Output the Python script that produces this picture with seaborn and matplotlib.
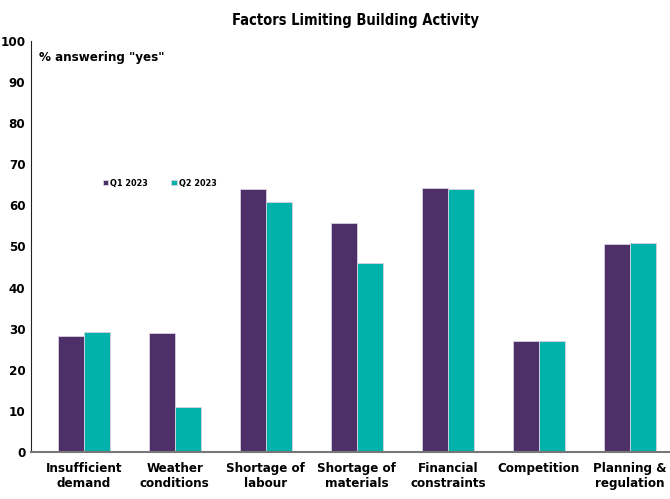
import matplotlib
matplotlib.use("Agg")
import matplotlib.pyplot as plt
import pandas as pd
import seaborn as sns

# Data
categories = ["Insufficient\ndemand", "Weather\nconditions", "Shortage of\nlabour",
              "Shortage of\nmaterials", "Financial\nconstraints", "Competition",
              "Planning &\nregulation"]
q1_2023 = [28.3, 29.0, 64.0, 55.7, 64.2, 27.0, 50.6]
q2_2023 = [29.2, 11.0, 60.9, 46.0, 64.0, 27.0, 50.8]
series = ["Q1 2023", "Q2 2023"]
colors = ["#4E3068", "#00B2A9"]

df = pd.DataFrame({
    "category": categories * 2,
    "value": q1_2023 + q2_2023,
    "series": [series[0]] * len(categories) + [series[1]] * len(categories),
})

sns.set_style("white")
plt.rcParams['font.family'] = ['DejaVu Sans']
plt.rcParams['font.stretch'] = 'condensed'
plt.rcParams['font.weight'] = 'bold'
plt.rcParams['text.color'] = 'black'
plt.rcParams['xtick.color'] = 'black'
plt.rcParams['ytick.color'] = 'black'

fig = plt.figure(figsize=(6.7, 4.99), dpi=100)
ax = fig.add_axes([31 / 670, 1 - 452 / 499, 639 / 670, 411 / 499])

sns.barplot(data=df, x="category", y="value", hue="series", palette=colors,
            saturation=1, width=0.57, edgecolor="#d9d2e0", linewidth=0.6, ax=ax)

ax.set_ylim(0, 100)
ax.set_xlim(-0.58, 6.44)
ax.set_yticks(range(0, 101, 10))
ax.tick_params(axis='y', length=0, labelsize=9.5, pad=4)
ax.tick_params(axis='x', length=0, labelsize=9.5, pad=7)
for lbl in ax.get_yticklabels() + ax.get_xticklabels():
    lbl.set_fontweight('bold')
ax.set_xlabel("")
ax.set_ylabel("")

for s in ["top", "right"]:
    ax.spines[s].set_visible(False)
ax.spines["left"].set_color("#222222")
ax.spines["left"].set_linewidth(0.8)
ax.spines["bottom"].set_color("#777777")
ax.spines["bottom"].set_linewidth(1.5)

ax.text(0.013, 0.975, '% answering "yes"', transform=ax.transAxes,
        fontsize=9.5, fontweight='bold', va='top', ha='left')

ax.legend(loc='upper left', bbox_to_anchor=(0.1, 0.685), ncol=2, frameon=False,
          handlelength=0.6, handleheight=0.6, handletextpad=0.2,
          columnspacing=2.6, prop={'weight': 'bold', 'size': 6.5})

fig.text(355 / 670, 1 - 20 / 499, "Factors Limiting Building Activity",
         ha='center', va='center', fontsize=10.5, fontweight='bold')

fig.savefig("out.png", dpi=100)
